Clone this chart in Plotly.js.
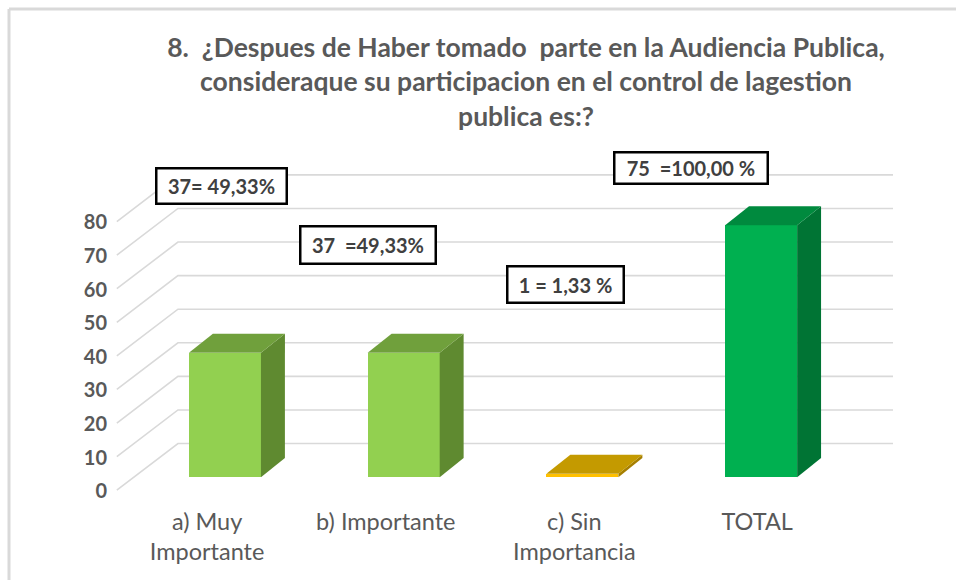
<!DOCTYPE html>
<html>
<head>
<meta charset="utf-8">
<script src="https://cdn.plot.ly/plotly-3.0.1.min.js"></script>
<style>html,body{margin:0;padding:0;background:#fff;}#chart{width:956px;height:580px;}</style>
</head>
<body>
<div id="chart"></div>
<script>
// ---- data ----
const categories = ['a) Muy<br>Importante', 'b) Importante', 'c) Sin<br>Importancia', 'TOTAL'];
const values = [37, 37, 1, 75];
const valueLabels = ['37= 49,33%', '37\u00A0\u00A0=49,33%', '1 = 1,33 %', '75\u00A0\u00A0=100,00 %'];
const tickValues = [0, 10, 20, 30, 40, 50, 60, 70, 80];
const tickLabels = ['0', '10', '20', '30', '40', '50', '60', '70', '80'];
const titleText = '8.\u00A0\u00A0\u00BFDespues de Haber tomado\u00A0\u00A0parte en la Audiencia Publica,<br>consideraque su participacion en el control de lagestion<br>publica es:?';

// ---- styling / geometry (not data) ----
const frontColors = ['#92D050', '#92D050', '#FFC000', '#00B050'];
const topColors   = ['#70A03C', '#70A03C', '#C49A00', '#008A3E'];
const sideColors  = ['#5F8A30', '#5F8A30', '#A67F00', '#007434'];
const barWidth = 0.403;          // in category units
const depthX = 0.134;            // bar depth offset (x units)
const depthY = 5.66;             // bar depth offset (y units)
const wallBackX = -0.263, wallFrontX = -0.605, wallRightX = 3.738;
const wallBackDY = 10, wallFrontDY = -3.9;
const tickOffsets = [-0.10, -0.10, -0.045, -0.022];   // perspective shift of category labels
const labelPos = [[-0.017, 86.7], [0.800, 69.1], [1.908, 57.5], [2.608, 92.0]];
const labelBox = [[133, 38], [138, 40], [119, 39], [156, 34]];
const font = 'Lato, "Open Sans", sans-serif';

const xIdx = categories.map((c, i) => i);
const traces = [];

// gridlines (back wall + left wall diagonals) as shapes below the bars
const shapes = [];
tickValues.forEach(v => {
  shapes.push({type: 'path', xref: 'x', yref: 'y', layer: 'below',
    path: 'M' + wallFrontX + ',' + (v + wallFrontDY) + 'L' + wallBackX + ',' + (v + wallBackDY) +
          'L' + wallRightX + ',' + (v + wallBackDY),
    line: {color: '#D9D9D9', width: 1.6}});
});

// 3D faces of the bars (top and right side)
values.forEach((v, i) => {
  const l = i - barWidth / 2, r = i + barWidth / 2;
  traces.push({type: 'scatter', mode: 'lines', fill: 'toself', fillcolor: sideColors[i],
    x: [r, r + depthX, r + depthX, r, r], y: [0, depthY, v + depthY, v, 0],
    line: {width: 0, color: sideColors[i]}, hoverinfo: 'skip', showlegend: false});
  traces.push({type: 'scatter', mode: 'lines', fill: 'toself', fillcolor: topColors[i],
    x: [l, r, r + depthX, l + depthX, l], y: [v, v, v + depthY, v + depthY, v],
    line: {width: 0, color: topColors[i]}, hoverinfo: 'skip', showlegend: false});
});

// front faces
traces.push({type: 'bar', x: xIdx, y: values, width: barWidth,
  marker: {color: frontColors, line: {width: 0}}, showlegend: false,
  hovertext: categories.map((c, i) => c.replace('<br>', ' ') + ': ' + values[i]), hoverinfo: 'text'});

const annotations = valueLabels.map((t, i) => ({
  x: labelPos[i][0], y: labelPos[i][1], xref: 'x', yref: 'y', text: '<b>' + t + '</b>', showarrow: false,
  font: {family: font, size: 20, color: '#404040'}, bgcolor: '#FFFFFF', bordercolor: '#000000',
  borderwidth: 2.5, borderpad: 0, width: labelBox[i][0] - 5, height: labelBox[i][1] - 5,
  xanchor: 'center', yanchor: 'middle'
}));

const mL = 112, mR = 16, mT = 148, mB = 76, W = 956, H = 580;
const pw = W - mL - mR, ph = H - mT - mB;
const fx = -(mL - 9) / pw, fy = 1 + (mT - 9) / ph;
shapes.push({type: 'line', xref: 'paper', yref: 'paper', x0: fx, x1: fx, y0: fy, y1: -1, line: {color: '#D9D9D9', width: 3}});
shapes.push({type: 'line', xref: 'paper', yref: 'paper', x0: fx, x1: 2, y0: fy, y1: fy, line: {color: '#D9D9D9', width: 3}});

const layout = {
  width: W, height: H, paper_bgcolor: '#FFFFFF', plot_bgcolor: 'rgba(0,0,0,0)',
  margin: {l: mL, r: mR, t: mT, b: mB},
  title: {text: '<b>' + titleText + '</b>', font: {family: font, size: 26.5, color: '#595959'},
    x: 0.5, xref: 'paper', xanchor: 'center', y: 1 - 57 / H, yref: 'container', yanchor: 'middle'},
  xaxis: {range: [-0.632, 4.001], tickvals: xIdx.map((i) => i + tickOffsets[i]), ticktext: categories,
    showgrid: false, zeroline: false, showline: false, ticks: '', ticklabelstandoff: 1,
    tickfont: {family: font, size: 23.5, color: '#595959'}, fixedrange: true},
  yaxis: {range: [-8, 98], tickvals: tickValues, ticktext: tickLabels, showgrid: false, zeroline: false,
    showline: false, ticks: '', ticklabelshift: 14, ticklabelstandoff: 4,
    tickfont: {family: font, size: 20, color: '#595959', weight: 'bold'}, fixedrange: true},
  annotations: annotations,
  shapes: shapes,
  bargap: 0, showlegend: false
};

Plotly.newPlot('chart', traces, layout, {displayModeBar: false, staticPlot: true});
</script>
</body>
</html>
